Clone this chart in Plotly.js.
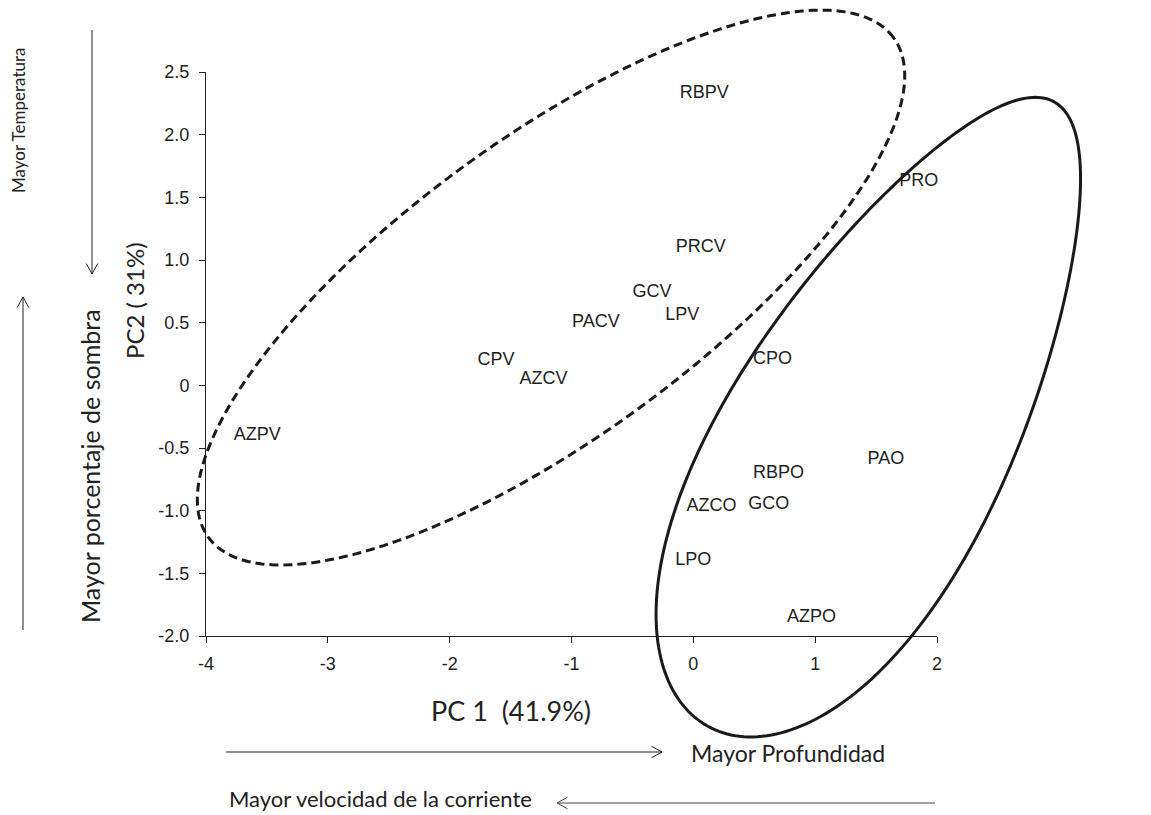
<!DOCTYPE html>
<html>
<head>
<meta charset="utf-8">
<script src="https://cdn.plot.ly/plotly-3.0.1.min.js"></script>
<style>html,body{margin:0;padding:0;background:#fff;}#chart{width:1151px;height:815px;}</style>
</head>
<body>
<div id="chart"></div>
<script>
// ---- data ----
const siteLabels = ["RBPV","PRO","PRCV","GCV","LPV","PACV","CPV","AZCV","CPO","AZPV","PAO","RBPO","GCO","AZCO","LPO","AZPO"];
const pc1Scores  = [0.09, 1.85, 0.06, -0.34, -0.09, -0.80, -1.62, -1.23, 0.65, -3.58, 1.58, 0.70, 0.62, 0.15, 0.00, 0.97];
const pc2Scores  = [2.33, 1.63, 1.10, 0.74, 0.56, 0.50, 0.20, 0.05, 0.21, -0.40, -0.59, -0.70, -0.95, -0.97, -1.40, -1.85];

const xTickVals = [-4, -3, -2, -1, 0, 1, 2];
const xTickText = ["-4", "-3", "-2", "-1", "0", "1", "2"];
const yTickVals = [2.5, 2.0, 1.5, 1.0, 0.5, 0, -0.5, -1.0, -1.5, -2.0];
const yTickText = ["2.5", "2.0", "1.5", "1.0", "0.5", "0", "-0.5", "-1.0", "-1.5", "-2.0"];

const xTitle = "PC 1\u00a0\u00a0(41.9%)";
const yTitle = "PC2 ( 31%)";
const noteTemp = "Mayor Temperatura";
const noteShade = "Mayor porcentaje de sombra";
const noteDepth = "Mayor Profundidad";
const noteFlow = "Mayor velocidad de la corriente";

// ---- layout geometry ----
const W = 1151, H = 815;
const M = {l: 206, r: 214, t: 72, b: 179};
const xRange = [-4, 2], yRange = [-2, 2.5];
const plotW = W - M.l - M.r, plotH = H - M.t - M.b;

function pxToPaperX(px){ return (px - M.l) / plotW; }
function pxToPaperY(py){ return (H - M.b - py) / plotH; }
function dataToPaperX(x){ return (x - xRange[0]) / (xRange[1] - xRange[0]); }
function dataToPaperY(y){ return (y - yRange[0]) / (yRange[1] - yRange[0]); }

// hand-drawn group outlines: centre, major & minor semi-axis vectors (data units), egg factor k
function outlinePath(cx, cy, ux, uy, vx, vy, k){
  const n = 260; let d = "";
  for (let i = 0; i <= n; i++){
    const t = 2*Math.PI*i/n;
    const w = Math.sin(t) * (1 - k*Math.cos(t));
    const x = cx + ux*Math.cos(t) + vx*w;
    const y = cy + uy*Math.cos(t) + vy*w;
    d += (i === 0 ? "M" : "L") + dataToPaperX(x).toFixed(5) + "," + dataToPaperY(y).toFixed(5);
  }
  return d + "Z";
}

const shapes = [];
shapes.push({type: "path", xref: "paper", yref: "paper",
  path: outlinePath(-1.168, 0.780, 2.812, 1.993, -0.722, 0.963, 0),
  line: {color: "#1a1a1a", width: 3, dash: "9px,5px"}, fillcolor: "rgba(0,0,0,0)"});
shapes.push({type: "path", xref: "paper", yref: "paper",
  path: outlinePath(1.540, -0.229, 1.421, 2.491, -1.005, 0.5416, 0.22),
  line: {color: "#1a1a1a", width: 3}, fillcolor: "rgba(0,0,0,0)"});

// open-headed arrows (pixel positions)
function arrow(x0, y0, x1, y1, color){
  const c = color || "#222";
  shapes.push({type: "line", xref: "paper", yref: "paper",
    x0: pxToPaperX(x0), y0: pxToPaperY(y0), x1: pxToPaperX(x1), y1: pxToPaperY(y1),
    line: {color: c, width: 1}});
  const ang = Math.atan2(y1 - y0, x1 - x0), L = 12, spread = 0.5;
  [ang + Math.PI - spread, ang + Math.PI + spread].forEach(a => {
    shapes.push({type: "line", xref: "paper", yref: "paper",
      x0: pxToPaperX(x1), y0: pxToPaperY(y1),
      x1: pxToPaperX(x1 + L*Math.cos(a)), y1: pxToPaperY(y1 + L*Math.sin(a)),
      line: {color: c, width: 1}});
  });
}
arrow(92, 30, 92, 274);
arrow(23, 630, 23, 297);
arrow(226, 752, 662, 752);
arrow(935, 803, 557, 803, "#444");

function note(text, px, py, size, angle){
  return {text: text, xref: "paper", yref: "paper", x: pxToPaperX(px), y: pxToPaperY(py),
    xanchor: "center", yanchor: "middle", showarrow: false, textangle: angle || 0,
    font: {family: "Lato, 'Open Sans', sans-serif", size: size, color: "#222"}};
}
const annotations = [
  note(xTitle, 511, 711, 27),
  note(yTitle, 134, 301, 24, -90),
  note(noteTemp, 18, 120, 17, -90),
  note(noteShade, 90, 466, 25, -90),
  note(noteDepth, 788, 753, 23),
  note(noteFlow, 380, 799, 22)
];

const trace = {
  type: "scatter", mode: "text",
  x: pc1Scores, y: pc2Scores, text: siteLabels,
  textposition: "middle center", cliponaxis: false,
  textfont: {family: "'Liberation Sans', Arial, sans-serif", size: 18, color: "#1e1e1e"},
  hoverinfo: "text", showlegend: false
};

const axisFont = {family: "'Liberation Sans', Arial, sans-serif", size: 18, color: "#1e1e1e"};
const layout = {
  width: W, height: H,
  margin: M,
  paper_bgcolor: "#fff", plot_bgcolor: "#fff",
  showlegend: false,
  xaxis: {range: xRange, tickvals: xTickVals, ticktext: xTickText, showgrid: false, zeroline: false,
    showline: true, linecolor: "#222", linewidth: 1, ticks: "outside", ticklen: 6, tickcolor: "#222",
    tickfont: axisFont, ticklabelstandoff: 5, fixedrange: true},
  yaxis: {range: yRange, tickvals: yTickVals, ticktext: yTickText, showgrid: false, zeroline: false,
    showline: true, linecolor: "#222", linewidth: 1, ticks: "outside", ticklen: 6, tickcolor: "#222",
    tickfont: axisFont, ticklabelstandoff: 6, fixedrange: true},
  shapes: shapes,
  annotations: annotations
};

Plotly.newPlot("chart", [trace], layout, {displayModeBar: false, staticPlot: true});
</script>
</body>
</html>
